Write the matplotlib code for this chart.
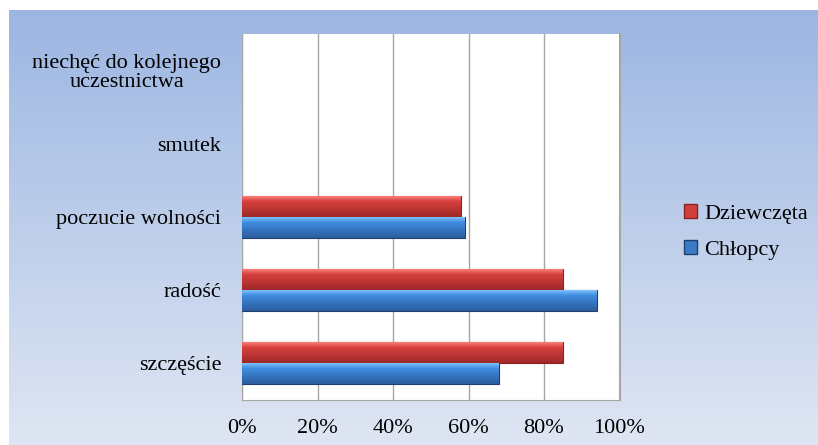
import numpy as np
import matplotlib.pyplot as plt
from matplotlib.patches import Patch
from matplotlib.ticker import PercentFormatter

categories = ["szczęście", "radość", "poczucie wolności", "smutek",
              "niechęć do kolejnego\nuczestnictwa"]
chlopcy = [68, 94, 59, 0, 0]
dziewczeta = [85, 85, 58, 0, 0]
xticks = [0, 20, 40, 60, 80, 100]

plt.rcParams['font.family'] = 'serif'
plt.rcParams['font.serif'] = ['Liberation Serif', 'Times New Roman', 'DejaVu Serif']
plt.rcParams['font.size'] = 16

fig = plt.figure(figsize=(8.18, 4.45), dpi=100)
fig.patch.set_facecolor('white')

# blue gradient background panel
bg = fig.add_axes([9 / 818, 0, 1 - 9 / 818, 435 / 445], zorder=-10)
top_c = np.array([0x9c, 0xb6, 0xe2]) / 255
bot_c = np.array([0xdf, 0xe6, 0xf3]) / 255
t = np.linspace(0, 1, 256)[:, None]
grad = top_c * (1 - t[..., None]) + bot_c * t[..., None]
bg.imshow(np.repeat(grad, 2, axis=1), aspect='auto', extent=[0, 1, 0, 1])
bg.axis('off')

ax = fig.add_axes([242 / 818, 45 / 445, 377.5 / 818, 366 / 445])
ax.set_facecolor('white')

y = np.arange(len(categories))
h = 0.286


def shade(c, light, dark):
    c = np.array(c)
    s = np.linspace(0, 1, 64)[:, None]
    # light at top edge, darker towards bottom
    return np.clip(np.where(s < 0.25, light + (c - light) * s / 0.25,
                            c + (dark - c) * (s - 0.25) / 0.75), 0, 1)


red_grad = shade([0.84, 0.25, 0.24], np.array([0.98, 0.50, 0.48]), np.array([0.62, 0.16, 0.16]))
blue_grad = shade([0.25, 0.55, 0.88], np.array([0.50, 0.76, 1.0]), np.array([0.17, 0.36, 0.62]))

bars_d = ax.barh(y + h / 2, dziewczeta, height=h, color='#c0392b',
                 edgecolor='#8a2222', linewidth=0.8, zorder=3, label='Dziewczęta')
bars_c = ax.barh(y - h / 2, chlopcy, height=h, color='#3a7bc8',
                 edgecolor='#1f3f70', linewidth=0.8, zorder=3, label='Chłopcy')

for bars, g in ((bars_d, red_grad), (bars_c, blue_grad)):
    for b in bars:
        if b.get_width() <= 0:
            b.set_linewidth(0)
            continue
        x0, y0 = b.get_x(), b.get_y()
        im = ax.imshow(g[:, None, :], aspect='auto', zorder=3.5,
                       extent=[x0, x0 + b.get_width(), y0, y0 + b.get_height()])
        im.set_clip_path(b)

ax.set_xlim(0, 100)
ax.set_ylim(-0.5, len(categories) - 0.5)
ax.set_xticks(xticks)
ax.xaxis.set_major_formatter(PercentFormatter(decimals=0))
ax.set_yticks(y)
ax.set_yticklabels(categories, linespacing=1.0, multialignment='center')
ax.tick_params(axis='x', length=0, pad=14)
ax.tick_params(axis='y', length=0, pad=15)
ax.grid(axis='x', color='#a6a6a6', linewidth=1, zorder=0)
ax.spines['top'].set_visible(False)
for side in ['left', 'bottom', 'right']:
    ax.spines[side].set_color('#a6a6a6')
ax.spines['right'].set_linewidth(1.5)

handles = [Patch(facecolor='#d0403a', edgecolor='#8a2222', label='Dziewczęta'),
           Patch(facecolor='#3a7bc8', edgecolor='#1f3f70', label='Chłopcy')]
fig.legend(handles=handles, loc='center left', bbox_to_anchor=(664 / 818, 1 - 232 / 445),
           frameon=False, handlelength=0.6, handleheight=0.6, handletextpad=0.3,
           labelspacing=0.7)

fig.savefig('out.png', dpi=100)
